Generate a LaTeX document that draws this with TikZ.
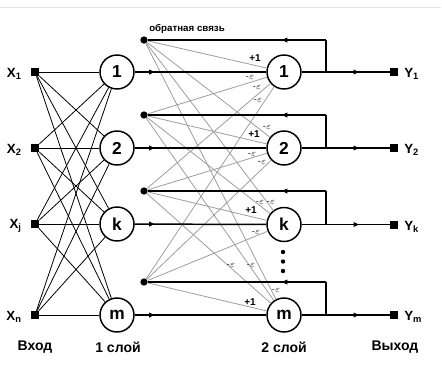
\documentclass[tikz,border=0pt]{standalone}
\usepackage{fontspec}
\setmainfont{Liberation Sans}
\usetikzlibrary{arrows.meta,decorations.markings}
\begin{document}
\begin{tikzpicture}[x=0.75pt,y=-0.75pt,
  neuron/.style={circle,draw,line width=1.1pt,minimum size=25.5pt,inner sep=0pt,fill=white,font=\fontsize{13}{15}\selectfont\bfseries},
  term/.style={rectangle,fill=black,minimum size=6pt,inner sep=0pt},
  fbdot/.style={circle,fill=black,minimum size=5.5pt,inner sep=0pt},
  sdot/.style={circle,fill=black,minimum size=3.3pt,inner sep=0pt},
  inl/.style={line width=0.6pt},
  wline/.style={draw=black!38,line width=0.6pt},
  fbline/.style={line width=1.1pt},
  midarrow/.style={line width=1.1pt,postaction={decorate},decoration={markings,mark=at position #1 with {\arrow{Triangle[length=4pt,width=3.5pt]}}}},
  wlab/.style={font=\fontsize{7}{8}\selectfont,inner sep=0pt,text=black!85},
  plab/.style={font=\fontsize{7.5}{8}\selectfont\bfseries,inner sep=0pt},
  captxt/.style={font=\fontsize{10.5}{12}\selectfont\bfseries,inner sep=0pt},
  iolab/.style={font=\fontsize{10}{11}\selectfont\bfseries,inner sep=0pt},
]
\useasboundingbox (0,0) rectangle (442,365);
\fill[white] (0,0) rectangle (442,365);
\draw[draw={rgb,255:red,228;green,228;blue,238},line width=1.2pt] (0,7.5) coordinate (tl) -- (441,7.5) coordinate (tr);

% inputs
\node[term] (x1) at (35,72) {};
\node[term] (x2) at (35,148) {};
\node[term] (xj) at (35,224) {};
\node[term] (xn) at (35,315) {};
\node[iolab,anchor=east] (lx1) at (22,74) {X\textsubscript{1}};
\node[iolab,anchor=east] (lx2) at (22,150) {X\textsubscript{2}};
\node[iolab,anchor=east] (lxj) at (22,226) {X\textsubscript{j}};
\node[iolab,anchor=east] (lxn) at (22,317) {X\textsubscript{n}};

% layer 1
\node[neuron] (a1) at (117,72) {1};
\node[neuron] (a2) at (117,148) {2};
\node[neuron] (ak) at (117,224) {k};
\node[neuron] (am) at (117,315) {m};

% feedback dots
\node[fbdot] (d1) at (144,40) {};
\node[fbdot] (d2) at (144,115) {};
\node[fbdot] (dk) at (144,191) {};
\node[fbdot] (dm) at (144,282) {};

% layer 2
\node[neuron] (b1) at (284,72) {1};
\node[neuron] (b2) at (284,148) {2};
\node[neuron] (bk) at (284,224.5) {k};
\node[neuron] (bm) at (284,315) {m};

% outputs
\node[term] (y1) at (394,72) {};
\node[term] (y2) at (394,148) {};
\node[term] (yk) at (394,224.5) {};
\node[term] (ym) at (394,315) {};
\node[iolab,anchor=west] (ly1) at (404,74) {Y\textsubscript{1}};
\node[iolab,anchor=west] (ly2) at (404,150) {Y\textsubscript{2}};
\node[iolab,anchor=west] (lyk) at (404,226.5) {Y\textsubscript{k}};
\node[iolab,anchor=west] (lym) at (404,317) {Y\textsubscript{m}};

% junction / corner coordinates
\coordinate (j1) at (326,72);   \coordinate (t1) at (326,40);
\coordinate (j2) at (326,148);  \coordinate (t2) at (326,115);
\coordinate (jk) at (326,224.5);\coordinate (tk) at (326,191);
\coordinate (jm) at (326,315);  \coordinate (tm) at (326,282);

% gray weighted feedback lines
\foreach \s in {d1,d2,dk,dm}
  \foreach \t in {b1,b2,bk,bm}
    \draw[wline] (\s) -- (\t);

% input connections
\foreach \s in {x1,x2,xj,xn}
  \foreach \t in {a1,a2,ak,am}
    \draw[inl] (\s) -- (\t);

% layer 1 -> layer 2
\draw[midarrow=0.15] (a1) -- (b1);
\draw[midarrow=0.15] (a2) -- (b2);
\draw[midarrow=0.15] (ak) -- (bk);
\draw[midarrow=0.15] (am) -- (bm);

% outputs
\draw[midarrow=0.65] (b1) -- (y1);
\draw[midarrow=0.65] (b2) -- (y2);
\draw[midarrow=0.65] (bk) -- (yk);
\draw[midarrow=0.65] (bm) -- (ym);

% feedback loops
\foreach \n in {1,2,k,m}{
  \draw[fbline] (j\n) -- (t\n);
  \draw[midarrow=0.247] (t\n) -- (d\n);
}

% dots between k and m
\node[sdot] (v1) at (283,252) {};
\node[sdot] (v2) at (283,261.5) {};
\node[sdot] (v3) at (283,271) {};

% weight labels
\node[plab] (w11) at (255,58) {+1};
\node[wlab] (w21) at (250,77) {-$\varepsilon$};
\node[wlab] (wk1) at (257,87) {-$\varepsilon$};
\node[wlab] (wm1) at (258,100) {-$\varepsilon$};

\node[wlab] (w12) at (267,127) {-$\varepsilon$};
\node[plab] (w22) at (254,134) {+1};
\node[wlab] (wk2) at (252,154) {-$\varepsilon$};
\node[wlab] (wm2) at (262,162) {-$\varepsilon$};

\node[wlab] (w2k) at (260,202) {-$\varepsilon$};
\node[wlab] (w1k) at (271,202) {-$\varepsilon$};
\node[plab] (wkk) at (251,210) {+1};
\node[wlab] (wmk) at (256,232) {-$\varepsilon$};

\node[wlab] (wkm) at (231,265) {-$\varepsilon$};
\node[wlab] (w2m) at (251,265) {-$\varepsilon$};
\node[wlab] (w1m) at (276,290) {-$\varepsilon$};
\node[plab] (wmm) at (250,302) {+1};

% captions
\node[font=\fontsize{7.3}{8}\selectfont\bfseries,inner sep=0pt,anchor=west] (fb) at (149,29) {обратная связь};
\node[captxt] (c0) at (35,347) {Вход};
\node[captxt] (c1) at (118,347) {1 слой};
\node[captxt] (c2) at (284,347) {2 слой};
\node[captxt] (c3) at (395,347) {Выход};
\end{tikzpicture}
\end{document}
